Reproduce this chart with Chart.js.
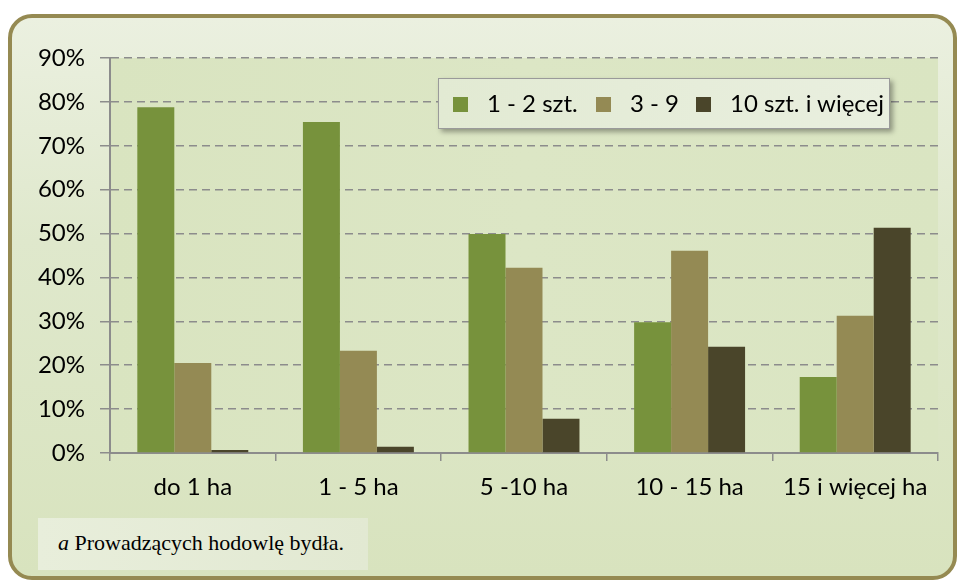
<!DOCTYPE html>
<html>
<head>
<meta charset="utf-8">
<script src="https://cdn.jsdelivr.net/npm/chart.js@4.4.1/dist/chart.umd.min.js"></script>
<style>
  html, body { margin: 0; padding: 0; background: #fff; }
  #wrap { position: relative; width: 961px; height: 584px; overflow: hidden; }
  #frame {
    position: absolute; left: 8px; top: 14px; width: 941px; height: 558px;
    border: 4px solid #958a52; border-radius: 24px;
    background: linear-gradient(to bottom, #ebf0e0 0%, #dfe8cc 40%, #d8e3be 100%);
  }
  #chartBox { position: absolute; left: 0; top: 0; width: 961px; height: 584px; }
  #legend {
    position: absolute; left: 438px; top: 78px; width: 450px; height: 49px;
    border: 1.5px solid #9a9a9a; background: linear-gradient(to right, #e2ead3, #e9efdf);
    box-shadow: 3px 3px 5px rgba(0,0,0,0.35);
    font-family: Lato, "Open Sans", sans-serif; font-size: 24px; color: #000;
  }
  #legend .sw { position: absolute; top: 18px; width: 15px; height: 15px; }
  #legend .tx { position: absolute; top: 10px; line-height: 28px; white-space: nowrap; }
  #note {
    position: absolute; left: 38px; top: 518px; width: 330px; height: 52px;
    background: linear-gradient(to right, #e8eedb, #e2e9d2);
    font-family: "Liberation Serif", "DejaVu Serif", serif; font-size: 22px; color: #000;
  }
  #note span.t { position: absolute; left: 20px; top: 12px; line-height: 26px; white-space: nowrap; }
</style>
</head>
<body>
<div id="wrap">
  <div id="frame"></div>
  <div id="chartBox"><canvas id="chart" width="961" height="584"></canvas></div>
  <div id="legend"></div>
  <div id="note"><span class="t"><i>a</i> Prowadzących hodowlę bydła.</span></div>
</div>
<script>
// categories and series (percent)
const categories = ['do 1 ha', '1 - 5 ha', '5 -10 ha', '10 - 15 ha', '15 i więcej ha'];
const seriesNames = ['1 - 2 szt.', '3 - 9', '10 szt. i więcej'];
const small = [78.8, 75.4, 49.9, 29.8, 17.3];
const medium = [20.5, 23.3, 42.2, 46.1, 31.3];
const large = [0.7, 1.4, 7.8, 24.2, 51.3];
const colors = ['#77923c', '#948a54', '#4a452a'];

// legend (html, placed inside plot like the original)
const legendEl = document.getElementById('legend');
const swX = [14, 157, 257];
const txX = [48, 191, 291];
seriesNames.forEach((name, i) => {
    legendEl.insertAdjacentHTML('beforeend',
        `<span class="sw" style="left:${swX[i]}px;background:${colors[i]}"></span>` +
        `<span class="tx" style="left:${txX[i]}px">${name}</span>`);
});

// plot area background
const plotBg = {
    id: 'plotBg',
    beforeDraw(chart) {
        const { ctx, chartArea: a } = chart;
        ctx.save();
        const g = ctx.createLinearGradient(a.left, 0, a.right, 0);
        g.addColorStop(0, '#d9e4c0');
        g.addColorStop(0.5, '#dce6c5');
        g.addColorStop(1, '#dae5c2');
        ctx.fillStyle = g;
        ctx.fillRect(a.left, a.top, a.right - a.left, a.bottom - a.top);
        ctx.restore();
    }
};

Chart.defaults.font.family = "Lato, 'Open Sans', sans-serif";
Chart.defaults.color = '#000';

new Chart(document.getElementById('chart'), {
    type: 'bar',
    data: {
        labels: categories,
        datasets: [small, medium, large].map((d, i) => ({
            label: seriesNames[i],
            data: d,
            backgroundColor: colors[i],
            borderWidth: 0,
            categoryPercentage: 0.67,
            barPercentage: 1.0
        }))
    },
    options: {
        responsive: false,
        animation: false,
        layout: { padding: { left: 0, top: 58, right: 23, bottom: 81 } },
        plugins: { legend: { display: false }, tooltip: { enabled: false } },
        scales: {
            y: {
                min: 0, max: 90,
                ticks: { stepSize: 10, callback: v => v + '%', font: { size: 24 }, padding: 15 },
                grid: {
                    color: '#8c8c8c', lineWidth: 1.5,
                    tickLength: 10, tickBorderDash: [], tickColor: '#8c8c8c'
                },
                border: { display: true, color: '#8c8c8c', width: 2, dash: [8, 5] },
                afterFit(scale) { scale.width = 110; }
            },
            x: {
                ticks: { font: { size: 24 }, padding: 12 },
                grid: {
                    display: true, drawOnChartArea: false, offset: true,
                    tickLength: 8, color: '#8c8c8c', lineWidth: 1.5
                },
                border: { display: true, color: '#8c8c8c', width: 2 },
                afterFit(scale) { scale.height = 50; }
            }
        }
    },
    plugins: [plotBg]
});
</script>
</body>
</html>
